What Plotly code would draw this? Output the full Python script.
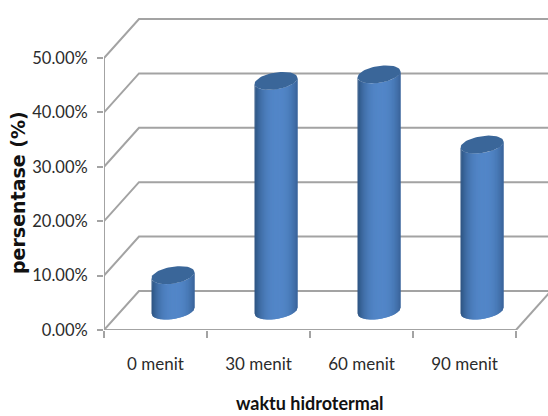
import math
import plotly.graph_objects as go

categories = ["0 menit", "30 menit", "60 menit", "90 menit"]
percent_values = [6.5, 42.2, 43.4, 30.5]
y_ticks = [0, 10, 20, 30, 40, 50]
y_tick_labels = ["0.00%", "10.00%", "20.00%", "30.00%", "40.00%", "50.00%"]
x_title = "waktu hidrotermal"
y_title = "persentase (%)"

W, H = 548, 416
LEFT, BOTTOM = 104, 86
PX_PER_CAT = 103.0
PX_PER_UNIT = 5.44
GREY = "#a3a3a3"
TEXT = "#2b2b2b"

# Oblique depth of the 3D box, in data units
DX = 35 / PX_PER_CAT
DY = 39 / PX_PER_UNIT
# Cylinder cross-section
A = 21.5 / PX_PER_CAT
B = 8.5 / PX_PER_UNIT
TILT = 3 / PX_PER_UNIT

xmin, xmax = -0.5, -0.5 + (W - LEFT) / PX_PER_CAT
ymax = (H - BOTTOM) / PX_PER_UNIT
fig = go.Figure()


def add_line(xs, ys, width=2.0):
    fig.add_trace(go.Scatter(x=xs, y=ys, mode="lines", hoverinfo="skip",
                             line=dict(color=GREY, width=width)))


# Back wall and side wall gridlines
for t in y_ticks:
    add_line([xmin, xmin + DX, xmax + 1], [t, t + DY, t + DY])
# Value axis, floor front edge and floor right edge
add_line([xmin, xmin], [0, 50])
x_end = xmin + len(categories)
add_line([xmin, x_end], [0, 0])
add_line([x_end, x_end + DX], [0, DY])


def shade(u):
    """Horizontal cylinder shading; u runs from -1 to 1 across the width."""
    k = min(1.0, abs(u - 0.08) / 1.08) ** 2.5
    light = (82, 134, 200)
    dark = (44, 82, 128)
    c = [round(l + (d - l) * k) for l, d in zip(light, dark)]
    return f"rgb({c[0]},{c[1]},{c[2]})"


STRIPS = 44
for i, v in enumerate(percent_values):
    cx = i + DX / 2
    base = DY / 2
    top = v + DY / 2
    # Side of the cylinder, built from thin vertical strips
    for s in range(STRIPS):
        u0 = -1 + 2 * s / STRIPS
        u1 = min(1, -1 + 2 * (s + 2) / STRIPS)
        us = [u0 + (u1 - u0) * j / 3 for j in range(4)]
        front = [-B * math.sqrt(max(0, 1 - u * u)) + TILT * u for u in us]
        xs = [cx + A * u for u in us]
        fig.add_trace(go.Scatter(
            x=xs + xs[::-1] + [xs[0]],
            y=[base + f for f in front] + [top + f for f in front[::-1]] + [base + front[0]],
            mode="lines", fill="toself", fillcolor=shade(-1 + 2 * (s + 0.5) / STRIPS),
            line=dict(width=0), hoverinfo="skip"))
    # Top cap
    steps = range(61)
    ex = [cx + A * math.cos(2 * math.pi * t / 60) for t in steps]
    ey = [top + B * math.sin(2 * math.pi * t / 60) + TILT * math.cos(2 * math.pi * t / 60) for t in steps]
    fig.add_trace(go.Scatter(x=ex, y=ey, mode="lines", fill="toself",
                             fillcolor="#3a6699", line=dict(width=0), hoverinfo="skip"))

fig.update_layout(
    width=W, height=H, showlegend=False,
    margin=dict(l=LEFT, r=0, t=0, b=BOTTOM),
    paper_bgcolor="white", plot_bgcolor="white",
    font=dict(family="Lato", color=TEXT),
    xaxis=dict(
        range=[xmin, xmax], showgrid=False, zeroline=False, showline=False,
        tickmode="array", tickvals=list(range(len(categories))), ticktext=categories,
        ticks="", ticklabelstandoff=22, tickfont=dict(size=17),
        minor=dict(tickmode="array", tickvals=[xmin + k for k in range(5)],
                   ticks="outside", ticklen=7, tickwidth=2, tickcolor=GREY, showgrid=False),
    ),
    yaxis=dict(
        range=[0, ymax], showgrid=False, zeroline=False, showline=False,
        tickmode="array", tickvals=y_ticks, ticktext=y_tick_labels,
        ticks="outside", ticklen=6, tickwidth=2, tickcolor=GREY,
        ticklabelstandoff=6, tickfont=dict(size=16.5),
    ),
    annotations=[
        dict(text=f"<b>{x_title}</b>", xref="paper", yref="paper",
             x=(310 - LEFT) / (W - LEFT), y=-(403 - (H - BOTTOM)) / (H - BOTTOM),
             showarrow=False, xanchor="center", yanchor="middle",
             font=dict(size=18, family="Lato", color="#111111")),
        dict(text=f"<b>{y_title}</b>", xref="paper", yref="paper",
             x=-(104 - 18) / (W - LEFT), y=((H - BOTTOM) - 193) / (H - BOTTOM),
             showarrow=False, textangle=-90, xanchor="center", yanchor="middle",
             font=dict(size=19, family="DejaVu Sans", color="#111111")),
    ],
)

fig.write_html("out.html")
